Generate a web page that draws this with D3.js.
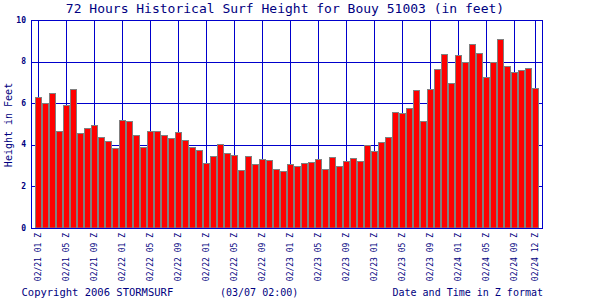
<!DOCTYPE html>
<html><head><meta charset="utf-8">
<script src="https://cdn.jsdelivr.net/npm/d3@7"></script>
<style>html,body{margin:0;padding:0;background:#fff;}svg{display:block;}</style>
</head><body>
<script>
const title = "72 Hours Historical Surf Height for Bouy 51003 (in feet)";
const heights = [6.28,5.99,6.47,4.66,5.90,6.67,4.55,4.79,4.94,4.36,4.18,3.83,5.18,5.10,4.46,3.88,
4.66,4.62,4.46,4.31,4.57,4.22,3.88,3.74,3.12,3.45,4.03,3.56,3.49,2.77,3.45,3.06,
3.30,3.25,2.82,2.72,3.06,2.96,3.12,3.17,3.30,2.82,3.40,2.96,3.22,3.35,3.21,3.97,
3.70,4.12,4.36,5.56,5.51,5.75,6.62,5.13,6.67,7.63,8.35,6.96,8.30,7.97,8.83,8.40,
7.25,7.97,9.07,7.77,7.49,7.58,7.68,6.72];
const xLabels = ["02/21 01","02/21 05","02/21 09","02/22 01","02/22 05","02/22 09","02/22 01","02/22 05","02/22 09","02/23 01","02/23 05","02/23 09","02/23 01","02/23 05","02/23 09","02/24 01","02/24 05","02/24 09","02/24 12"];
const xLabelIdx = [0,4,8,12,16,20,24,28,32,36,40,44,48,52,56,60,64,68,71];
const yTicks = [0,2,4,6,8,10];

const W=600,H=300;
const L=31,R=542,T=20,B=228;
const navy="#000080", grid="#0000cc";
const font="'DejaVu Sans Mono', monospace";

const svg=d3.select("body").append("svg").attr("width",W).attr("height",H);
const x=d3.scaleBand().domain(d3.range(heights.length)).range([35,35+7*heights.length]).paddingInner(0).paddingOuter(0);
const y=d3.scaleLinear().domain([0,10]).range([B,T]);

// grid
svg.append("g").selectAll("line").data(yTicks.filter(d=>d>0&&d<10)).join("line")
  .attr("x1",L).attr("x2",R+1).attr("y1",d=>Math.round(y(d))+0.5).attr("y2",d=>Math.round(y(d))+0.5)
  .attr("stroke",grid).attr("stroke-width",1);
svg.append("g").selectAll("line").data(xLabelIdx).join("line")
  .attr("x1",d=>x(d)+3.5).attr("x2",d=>x(d)+3.5).attr("y1",T).attr("y2",B)
  .attr("stroke",grid).attr("stroke-width",1);

// bars
svg.append("g").selectAll("rect").data(heights).join("rect")
  .attr("x",(d,i)=>x(i)+0.5).attr("width",x.bandwidth()-1)
  .attr("y",d=>Math.floor(y(d))+0.5).attr("height",d=>B-Math.floor(y(d))-0.5)
  .attr("fill","#ff0000").attr("stroke","#808080").attr("stroke-width",1);

// border
svg.append("rect").attr("x",L+0.5).attr("y",T+0.5).attr("width",R-L).attr("height",B-T)
  .attr("fill","none").attr("stroke",grid).attr("stroke-width",1);

// y tick labels
svg.append("g").selectAll("text").data(yTicks).join("text")
  .attr("x",26).attr("y",d=>y(d)+2.5).attr("text-anchor","end")
  .attr("font-family",font).attr("font-size",8).attr("font-weight","bold").attr("fill",navy)
  .text(d=>d);

// x tick labels
svg.append("g").selectAll("text").data(xLabelIdx).join("text")
  .attr("transform",d=>`translate(${x(d)+3.5+2.5},233) rotate(-90)`)
  .attr("text-anchor","end")
  .attr("font-family",font).attr("font-size",8).attr("fill",navy)
  .text((d,i)=>xLabels[i]+" Z");

// title
svg.append("text").attr("x",285).attr("y",13).attr("text-anchor","middle")
  .attr("font-family",font).attr("font-size",13).attr("fill",navy).text(title);

// y axis title
svg.append("text").attr("transform","translate(11.5,125) rotate(-90)").attr("text-anchor","middle")
  .attr("font-family",font).attr("font-size",10).attr("fill",navy).text("Height in Feet");

// footer
svg.append("text").attr("x",21.5).attr("y",295.5).attr("font-family",font).attr("font-size",10.5).attr("fill",navy).text("Copyright 2006 STORMSURF");
svg.append("text").attr("x",220).attr("y",295.5).attr("font-family",font).attr("font-size",10).attr("fill",navy).text("(03/07 02:00)");
svg.append("text").attr("x",543).attr("y",295.5).attr("text-anchor","end").attr("font-family",font).attr("font-size",10).attr("fill",navy).text("Date and Time in Z format");
</script>
</body></html>
